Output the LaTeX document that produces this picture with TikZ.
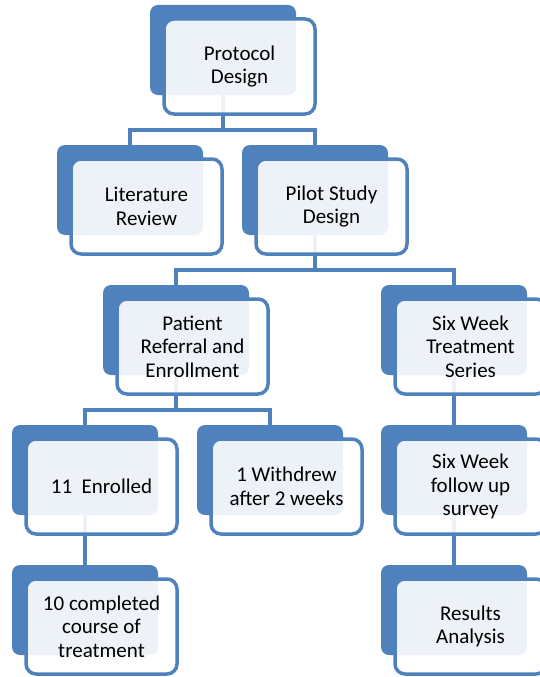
\documentclass[tikz,border=0pt]{standalone}
\usepackage{fontspec}
\setmainfont{Carlito}
\usetikzlibrary{backgrounds}
\definecolor{boxblue}{HTML}{4F81BD}
\begin{document}
\begin{tikzpicture}
[x=1pt,y=-1pt,
back/.style={fill=boxblue, rounded corners=8pt, minimum width=146pt, minimum height=90pt, inner sep=0pt},
front/.style={draw=boxblue, line width=3.5pt, fill=white, fill opacity=0.9, text opacity=1, rounded corners=10pt,
  minimum width=151pt, minimum height=95pt, inner sep=0pt, align=center, font=\fontsize{21}{23.5}\selectfont},
link/.style={draw=boxblue, line width=4pt}]
\useasboundingbox (0,0) rectangle (540,677);
\clip (0,0) rectangle (540,677);

% ROW 1
\node[back] (bproto) at (223,50) {};
\node[front] (proto) at (239.5,66.5) {Protocol\\Design};

% ROW 2
\node[back] (blit) at (130,190) {};
\node[front] (lit) at (146.5,206.5) {Literature\\Review};
\node[back] (bpilot) at (315,190) {};
\node[front] (pilot) at (331.5,206.5) {Pilot Study\\Design};

% ROW 3
\node[back] (brefer) at (176,330) {};
\node[front] (refer) at (192.5,346.5) {Patient\\Referral and\\Enrollment};
\node[back] (bseries) at (454,330) {};
\node[front] (series) at (470.5,346.5) {Six Week\\Treatment\\Series};

% ROW 4
\node[back] (benrol) at (85,470) {};
\node[front] (enrol) at (101.5,486.5) {11~ Enrolled};
\node[back] (bwithdrew) at (270,470) {};
\node[front] (withdrew) at (286.5,486.5) {1 Withdrew\\after 2 weeks};
\node[back] (bsurvey) at (454,470) {};
\node[front] (survey) at (470.5,486.5) {Six Week\\follow up\\survey};

% ROW 5
\node[back] (bdone) at (85,610) {};
\node[front] (done) at (101.5,626.5) {10 completed\\course of\\treatment};
\node[back] (bresults) at (454,610) {};
\node[front] (results) at (470.5,626.5) {Results\\Analysis};

% LINKS
\begin{pgfonlayer}{background}
\draw[link] (bproto.center) |- ([yshift=15pt]blit.north) -- (blit.center);
\draw[link] (bproto.center) |- ([yshift=15pt]bpilot.north) -- (bpilot.center);
\draw[link] (bpilot.center) |- ([yshift=15pt]brefer.north) -- (brefer.center);
\draw[link] (bpilot.center) |- ([yshift=15pt]bseries.north) -- (bseries.center);
\draw[link] (brefer.center) |- ([yshift=15pt]benrol.north) -- (benrol.center);
\draw[link] (brefer.center) |- ([yshift=15pt]bwithdrew.north) -- (bwithdrew.center);
\draw[link] (benrol.center) -- (bdone.center);
\draw[link] (bseries.center) -- (bsurvey.center);
\draw[link] (bsurvey.center) -- (bresults.center);
\end{pgfonlayer}
\end{tikzpicture}
\end{document}
